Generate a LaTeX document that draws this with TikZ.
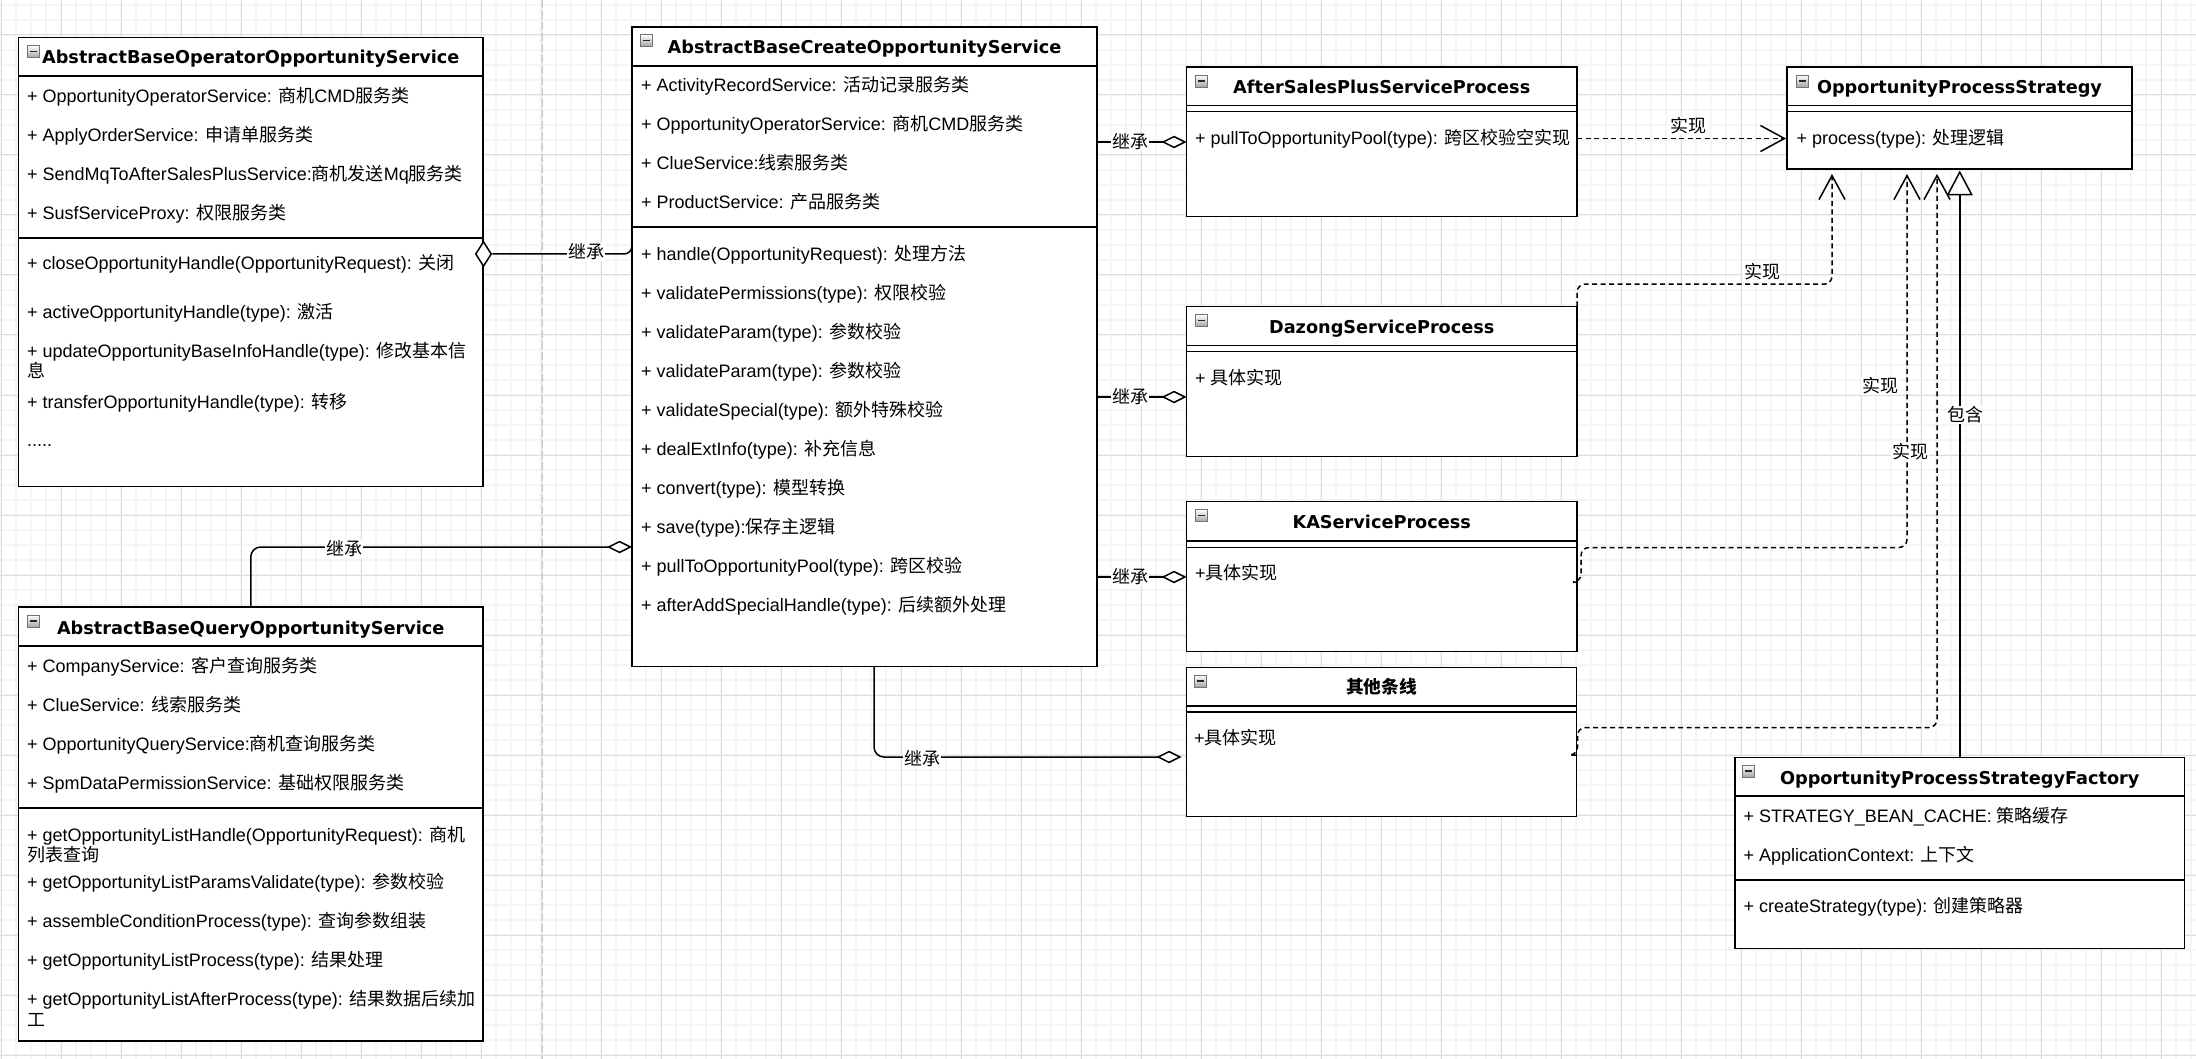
\documentclass[tikz,border=0pt]{standalone}
\usepackage{fontspec}
\setmainfont{Liberation Sans}
\newfontfamily\zhfont{Noto Sans CJK SC}
\newfontfamily\hdfont{DejaVu Sans}
\usetikzlibrary{arrows.meta,calc,shapes.geometric}
\newcommand{\zh}[1]{{\zhfont #1}}
\newcommand{\clsep}[2]{\draw[sep] ($(#1.north west)+(0,#2)$) -- ($(#1.north east)+(0,#2)$);}
\begin{document}
\begin{tikzpicture}[x=1pt,y=-1pt,
  cbox/.style={rectangle, draw=black, line width=1.8, fill=white, inner sep=0, outer sep=0},
  sep/.style={draw=black, line width=1.6},
  hd/.style={font=\hdfont\bfseries\fontsize{17.7}{20}\selectfont, anchor=base, inner sep=0},
  row/.style={font=\fontsize{18}{20}\selectfont, anchor=base west, inner sep=0},
  lbl/.style={font=\zhfont\fontsize{18}{20}\selectfont, fill=white, inner sep=1, anchor=center},
  icon/.style={rectangle, draw=black!55, line width=0.8, top color=white, bottom color=black!35, minimum size=12, inner sep=0,
    path picture={\draw[line width=1.6, black!85] ([xshift=-3.5pt]path picture bounding box.center) -- ([xshift=3.5pt]path picture bounding box.center);}},
  gminor/.style={draw=black!4, line width=1.3},
  gmajor/.style={draw=black!13, line width=1},
  agg/.style={draw=black, line width=1.5, -{Diamond[fill=white, length=25pt, width=12.5pt]}},
  real/.style={draw=black, line width=1.5, dash pattern=on 5pt off 3.5pt, -{Straight Barb[length=24pt, width=26pt]}},
  incl/.style={draw=black, line width=1.5, -{Triangle[fill=white, length=25pt, width=26pt]}}
]
\useasboundingbox (0,0) rectangle (2196,1059);
\fill[white] (0,0) rectangle (2196,1059);
% grid
\foreach \gx in {1,16,...,2196} {\draw[gminor] (\gx,0) -- (\gx,1059);}
\foreach \gy in {5,20,...,1059} {\draw[gminor] (0,\gy) -- (2196,\gy);}
\foreach \gx in {1,61,...,2196} {\draw[gmajor] (\gx,0) -- (\gx,1059);}
\foreach \gy in {35,95,...,1059} {\draw[gmajor] (0,\gy) -- (2196,\gy);}
\draw[black!22, line width=1, dash pattern=on 8pt off 3pt] (542,0) -- (542,1059);

% ---------- boxes ----------
\node[cbox, minimum width=464.5, minimum height=449] (op) at (250.75,262) {};
\node[cbox, minimum width=465, minimum height=639.5] (cr) at (864.5,346.75) {};
\node[cbox, minimum width=464.5, minimum height=434] (qu) at (250.75,824) {};
\node[cbox, minimum width=390.5, minimum height=149.5] (as) at (1381.75,141.75) {};
\node[cbox, minimum width=345, minimum height=102] (st) at (1959.5,118) {};
\node[cbox, minimum width=390.5, minimum height=150] (dz) at (1381.75,381.5) {};
\node[cbox, minimum width=390.5, minimum height=150] (ka) at (1381.75,576.5) {};
\node[cbox, minimum width=390, minimum height=149] (qt) at (1381.5,742) {};
\node[cbox, minimum width=449.5, minimum height=191] (fa) at (1959.75,853) {};

\clsep{op}{38.5} \clsep{op}{200.5}
\clsep{cr}{39} \clsep{cr}{199.8}
\clsep{qu}{39} \clsep{qu}{201}
\clsep{as}{38.7} \clsep{as}{44.7}
\clsep{st}{38.7} \clsep{st}{44.7}
\clsep{dz}{39.2} \clsep{dz}{45.2}
\clsep{ka}{39.5} \clsep{ka}{45.8}
\clsep{qt}{38.2} \clsep{qt}{44.2}
\clsep{fa}{38.5} \clsep{fa}{122.5}

% icons
\node[icon] (op-i) at (33.5,51.5) {};
\node[icon] (cr-i) at (646,40.5) {};
\node[icon] (qu-i) at (33.5,621) {};
\node[icon] (as-i) at (1201.5,81) {};
\node[icon] (st-i) at (1802,81) {};
\node[icon] (dz-i) at (1201.5,320.5) {};
\node[icon] (ka-i) at (1201.5,515.5) {};
\node[icon] (qt-i) at (1200,681) {};
\node[icon] (fa-i) at (1748.5,771) {};

% headers
\node[hd] (op-h) at (250.75,63.3) {AbstractBaseOperatorOpportunityService};
\node[hd] (cr-h) at (864.5,53.3) {AbstractBaseCreateOpportunityService};
\node[hd] (qu-h) at (250.75,634) {AbstractBaseQueryOpportunityService};
\node[hd] (as-h) at (1381.75,94) {AfterSalesPlusServiceProcess};
\node[hd] (st-h) at (1959.5,94) {OpportunityProcessStrategy};
\node[hd] (dz-h) at (1381.75,334) {DazongServiceProcess};
\node[hd] (ka-h) at (1381.75,528) {KAServiceProcess};
\node[hd] (qt-h) at (1381.5,693.5) {\zhfont 其他条线};
\node[hd] (fa-h) at (1959.75,784) {OpportunityProcessStrategyFactory};

% Operator rows
\node[row] (op-a1) at (27,102.5) {+ OpportunityOperatorService: \zh{商机}CMD\zh{服务类}};
\node[row] (op-a2) at (27,141.5) {+ ApplyOrderService: \zh{申请单服务类}};
\node[row] (op-a3) at (27,180.5) {+ SendMqToAfterSalesPlusService:\zh{商机发送}Mq\zh{服务类}};
\node[row] (op-a4) at (27,219.5) {+ SusfServiceProxy: \zh{权限服务类}};
\node[row] (op-m1) at (27,269.5) {+ closeOpportunityHandle(OpportunityRequest): \zh{关闭}};
\node[row] (op-m2) at (27,318.5) {+ activeOpportunityHandle(type): \zh{激活}};
\node[row] (op-m3) at (27,357.5) {+ updateOpportunityBaseInfoHandle(type): \zh{修改基本信}};
\node[row] (op-m3b) at (27,377.5) {\zh{息}};
\node[row] (op-m4) at (27,408.5) {+ transferOpportunityHandle(type): \zh{转移}};
\node[row] (op-m5) at (27,446) {.....};

% Create rows
\node[row] (cr-a1) at (641,92) {+ ActivityRecordService: \zh{活动记录服务类}};
\node[row] (cr-a2) at (641,131) {+ OpportunityOperatorService: \zh{商机}CMD\zh{服务类}};
\node[row] (cr-a3) at (641,170) {+ ClueService:\zh{线索服务类}};
\node[row] (cr-a4) at (641,209) {+ ProductService: \zh{产品服务类}};
\node[row] (cr-m1) at (641,260.2) {+ handle(OpportunityRequest): \zh{处理方法}};
\node[row] (cr-m2) at (641,299.2) {+ validatePermissions(type): \zh{权限校验}};
\node[row] (cr-m3) at (641,338.2) {+ validateParam(type): \zh{参数校验}};
\node[row] (cr-m4) at (641,377.2) {+ validateParam(type): \zh{参数校验}};
\node[row] (cr-m5) at (641,416.2) {+ validateSpecial(type): \zh{额外特殊校验}};
\node[row] (cr-m6) at (641,455.2) {+ dealExtInfo(type): \zh{补充信息}};
\node[row] (cr-m7) at (641,494.2) {+ convert(type): \zh{模型转换}};
\node[row] (cr-m8) at (641,533.2) {+ save(type):\zh{保存主逻辑}};
\node[row] (cr-m9) at (641,572.2) {+ pullToOpportunityPool(type): \zh{跨区校验}};
\node[row] (cr-m10) at (641,611.2) {+ afterAddSpecialHandle(type): \zh{后续额外处理}};

% Query rows
\node[row] (qu-a1) at (27,672.5) {+ CompanyService: \zh{客户查询服务类}};
\node[row] (qu-a2) at (27,711.5) {+ ClueService: \zh{线索服务类}};
\node[row] (qu-a3) at (27,750.5) {+ OpportunityQueryService:\zh{商机查询服务类}};
\node[row] (qu-a4) at (27,789.5) {+ SpmDataPermissionService: \zh{基础权限服务类}};
\node[row] (qu-m1) at (27,841) {+ getOpportunityListHandle(OpportunityRequest): \zh{商机}};
\node[row] (qu-m1b) at (27,861.5) {\zh{列表查询}};
\node[row] (qu-m2) at (27,888) {+ getOpportunityListParamsValidate(type): \zh{参数校验}};
\node[row] (qu-m3) at (27,927) {+ assembleConditionProcess(type): \zh{查询参数组装}};
\node[row] (qu-m4) at (27,966.5) {+ getOpportunityListProcess(type): \zh{结果处理}};
\node[row] (qu-m5) at (27,1005) {+ getOpportunityListAfterProcess(type): \zh{结果数据后续加}};
\node[row] (qu-m5b) at (27,1026.5) {\zh{工}};

% small classes
\node[row] (as-m1) at (1195,144.8) {+ pullToOpportunityPool(type): \zh{跨区校验空实现}};
\node[row] (st-m1) at (1796.5,144.8) {+ process(type): \zh{处理逻辑}};
\node[row] (dz-m1) at (1195,384.2) {+ \zh{具体实现}};
\node[row] (ka-m1) at (1195,579.8) {+\zh{具体实现}};
\node[row] (qt-m1) at (1194,744.8) {+\zh{具体实现}};

% Factory rows
\node[row] (fa-a1) at (1743.5,822.5) {+ STRATEGY\_BEAN\_CACHE: \zh{策略缓存}};
\node[row] (fa-a2) at (1743.5,861.5) {+ ApplicationContext: \zh{上下文}};
\node[row] (fa-m1) at (1743.5,912.5) {+ createStrategy(type): \zh{创建策略器}};

% ---------- connectors ----------
\node[diamond, draw=black, fill=white, line width=1.5, minimum width=16, minimum height=25, inner sep=0] (d1) at (483.5,254) {};
\draw[draw=black, line width=1.5, rounded corners=8] (d1.east) -| ($(cr.north west)+(0,214)$);
\node[lbl] (l1) at (586,252) {继承};

\draw[agg] ($(cr.north east)+(0,115)$) -- ($(as.north west)+(0,75)$);
\node[lbl] (l2) at (1130,142) {继承};
\draw[agg] ($(cr.north east)+(0,370)$) -- ($(dz.north west)+(0,90.5)$);
\node[lbl] (l3) at (1130,397) {继承};
\draw[agg] ($(cr.north east)+(0,550)$) -- ($(ka.north west)+(0,75.5)$);
\node[lbl] (l4) at (1130,577) {继承};

\draw[agg, rounded corners=10] (qu.north) |- ($(cr.north west)+(0,520)$);
\node[lbl] (l5) at (344,549) {继承};

\draw[agg, rounded corners=10] ($(cr.south west)+(242,0)$) |- ($(qt.north west)+(-5,89.5)$);
\node[lbl] (l6) at (922,759) {继承};

\draw[real] ($(as.north east)+(0,71.5)$) -- ($(st.north west)+(-1,71.5)$);
\node[lbl] (l7) at (1688,126) {实现};

\draw[real, rounded corners=8] (dz.north east) -- ($(dz.north east)+(0,-22.3)$) -| ($(st.south west)+(45,5)$);
\node[lbl] (l8) at (1762,272) {实现};

\draw[real, rounded corners=8] ($(ka.north east)+(0,80.5)$) -- ($(ka.north east)+(4,80.5)$) -- ($(ka.north east)+(4,46)$) -| ($(st.south west)+(120,5)$);
\node[lbl] (l9) at (1880,386) {实现};

\draw[real, rounded corners=8] ($(qt.north east)+(0,87.5)$) -- ($(qt.north east)+(1,87.5)$) -- ($(qt.north east)+(1,60)$) -| ($(st.south west)+(150,5)$);
\node[lbl] (l10) at (1910,452) {实现};

\draw[incl] (fa.north) -- ($(st.south west)+(172.75,1.5)$);
\node[lbl] (l11) at (1965,415) {包含};
\end{tikzpicture}
\end{document}
